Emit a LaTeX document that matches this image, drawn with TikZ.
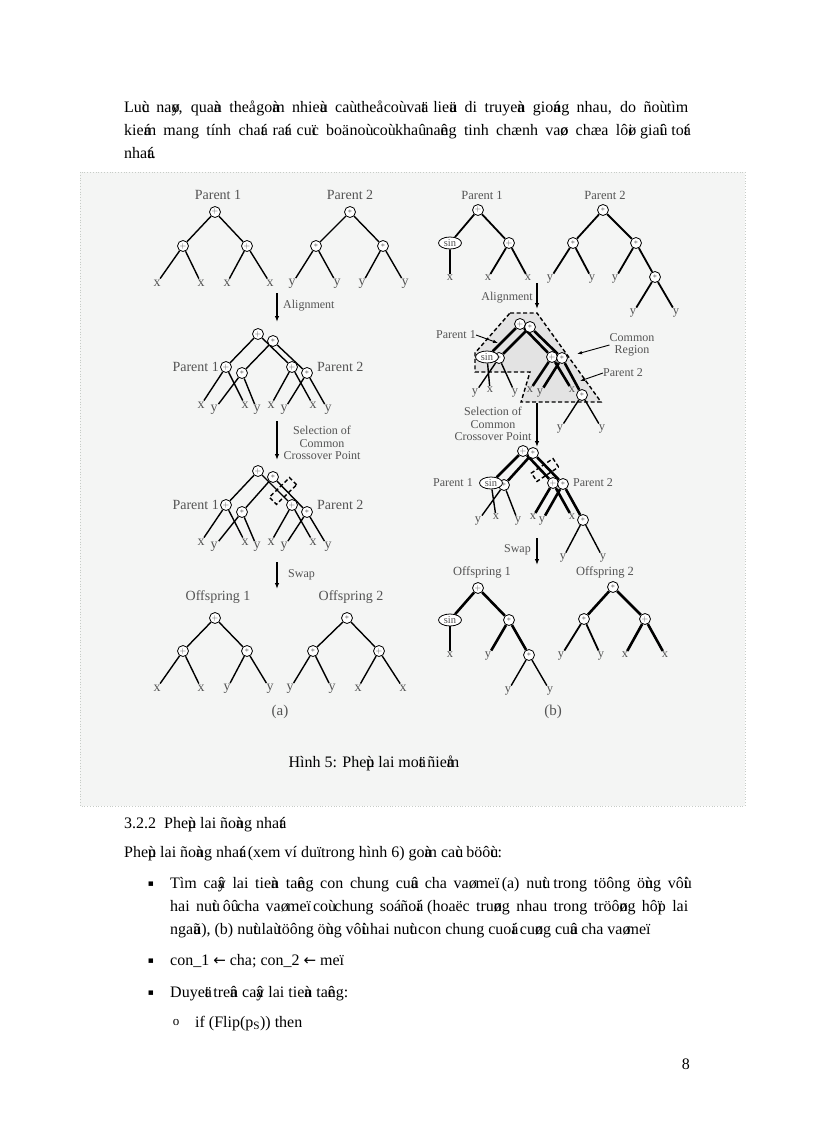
\documentclass[tikz,border=0pt]{standalone}
\usepackage{fontspec}
\setmainfont{Liberation Serif}
\newfontfamily\dejavu{DejaVu Sans}
\usepackage{graphicx}
\usetikzlibrary{arrows.meta,shapes.geometric}
\pgfdeclarelayer{bg}
\pgfdeclarelayer{edges}
\pgfsetlayers{bg,edges,main}
\definecolor{labgray}{rgb}{0.33,0.33,0.33}
\definecolor{figbg}{rgb}{0.955,0.962,0.955}
\definecolor{framegray}{rgb}{0.78,0.80,0.78}
\newlength\fitw
\newcommand\fitline[2]{\settowidth\fitw{#2}\ifdim\fitw>#1\relax\resizebox{#1}{\height}{#2}\else\hbox to #1{\spaceskip=0.25em plus 1fill\relax #2}\fi}
\newcommand\bodyfont{\fontsize{16}{23}\selectfont}
\newcommand\zw[1]{\rlap{\char#1\relax}}
\catcode`\ù=13
\def ù{\zw{"F9}}
\catcode`\ø=13
\def ø{\zw{"F8}}
\catcode`\û=13
\def û{\zw{"FB}}
\catcode`\õ=13
\def õ{\zw{"F5}}
\catcode`\ï=13
\def ï{\zw{"EF}}
\catcode`\á=13
\def á{\zw{"E1}}
\catcode`\à=13
\def à{\zw{"E0}}
\catcode`\å=13
\def å{\zw{"E5}}
\catcode`\ã=13
\def ã{\zw{"E3}}
\catcode`\ä=13
\def ä{\zw{"E4}}
\catcode`\â=13
\def â{\zw{"E2}}
\catcode`\ê=13
\def ê{\zw{"EA}}
\tikzset{
 body/.style={anchor=base west, inner sep=0, font=\bodyfont},
 lab/.style={inner sep=0, font=\fontsize{14}{14}\selectfont, text=labgray},
 labb/.style={inner sep=0, font=\fontsize{12.5}{12.5}\selectfont, text=labgray},
 small/.style={inner sep=0, font=\fontsize{12}{12.5}\selectfont, text=labgray, align=center},
 op/.style={circle, draw, fill=white, line width=0.8pt, minimum size=11pt, inner sep=0, font=\fontsize{8}{8}\selectfont, text=labgray},
 sinnode/.style={ellipse, draw, fill=white, line width=0.8pt, minimum width=23pt, minimum height=12pt, inner sep=0, font=\fontsize{10.5}{10.5}\selectfont, text=labgray},
 lf/.style={inner sep=1pt, font=\fontsize{14}{14}\selectfont, text=labgray},
 lfb/.style={inner sep=1pt, font=\fontsize{12.5}{12.5}\selectfont, text=labgray},
 ed/.style={line width=1.4pt},
 edm/.style={line width=1.8pt},
 edb/.style={line width=2.6pt},
 flow/.style={line width=1.3pt, -{Latex[length=6pt,width=4.5pt]}},
 callout/.style={line width=0.9pt, -{Latex[length=5pt,width=3.5pt]}},
 dsh/.style={line width=1.4pt, dash pattern=on 4pt off 2.5pt},
 bullet/.style={anchor=base, inner sep=0, font=\dejavu\fontsize{9}{9}\selectfont},
}
\begin{document}
\begin{tikzpicture}[x=1pt,y=-1pt]
\useasboundingbox (0,0) rectangle (816,1123);
\begin{pgfonlayer}{bg}
\fill[white] (0,0) rectangle (816,1123);
\fill[figbg] (80,172) rectangle (745,806);
\draw[framegray, dotted, line width=0.8pt] (80,172) rectangle (745,806);
\end{pgfonlayer}

% ---------- body text ----------
\node[body] (t1) at (124,113) {\fitline{564pt}{Luùc naøy, quaàn theå goàm nhieàu caù theå coù vaät lieäu di truyeàn gioáng nhau, do ñoù tìm}};
\node[body] (t2) at (124,136) {\fitline{564pt}{kieám mang tính chaát raát cuïc boä noù coù khaû naêng tinh chænh vaøo chæa lôøi giaûi toát}};
\node[body] (t3) at (124,159) {nhaát.};

% ---------- (a) top parents ----------
\node[lab] (ap1) at (218,195) {Parent 1};
\node[lab] (ap2) at (350,195) {Parent 2};
\node[op] (a1) at (215,212) {$+$};
\node[op] (a1l) at (183,246) {$+$};
\node[op] (a1r) at (247,246) {$+$};
\node[lf] (a1x1) at (157,283) {x};
\node[lf] (a1x2) at (201,283) {x};
\node[lf] (a1x3) at (227,283) {x};
\node[lf] (a1x4) at (270,283) {x};
\node[op] (a2) at (350,212) {$\ast$};
\node[op] (a2l) at (316,246) {$\ast$};
\node[op] (a2r) at (383,246) {$\ast$};
\node[lf] (a2y1) at (292,284) {y};
\node[lf] (a2y2) at (337,284) {y};
\node[lf] (a2y3) at (362,284) {y};
\node[lf] (a2y4) at (405,284) {y};

\coordinate (aar1s) at (277,293);
\coordinate (aar1e) at (277,322);
\node[small, anchor=west] (aal) at (283,306) {Alignment};

% ---------- (a) aligned ----------
\node[op] (m1) at (258,334) {$+$};
\node[op] (m2) at (273,341) {$\ast$};
\node[op] (m1l) at (226,367) {$+$};
\node[op] (m2l) at (242,373) {$\ast$};
\node[op] (m1r) at (292,367) {$+$};
\node[op] (m2r) at (307,373) {$\ast$};
\node[lab, anchor=east] (mp1) at (219,367) {Parent 1};
\node[lab, anchor=west] (mp2) at (317,367) {Parent 2};
\node[lf] (mx1) at (201,405) {x};
\node[lf] (my1) at (214,410) {y};
\node[lf] (mx2) at (245,405) {x};
\node[lf] (my2) at (257,410) {y};
\node[lf] (mx3) at (271,405) {x};
\node[lf] (my3) at (284,410) {y};
\node[lf] (mx4) at (313,405) {x};
\node[lf] (my4) at (328,410) {y};

\coordinate (aar2s) at (277,421);
\coordinate (aar2e) at (277,460);
\node[small] (asel) at (322,443) {Selection of\\Common\\Crossover Point};

% ---------- (a) selected ----------
\node[op] (s1) at (258,471) {$+$};
\node[op] (s2) at (273,477) {$\ast$};
\node[op] (s1l) at (226,505) {$+$};
\node[op] (s2l) at (242,512) {$\ast$};
\node[op] (s1r) at (292,505) {$+$};
\node[op] (s2r) at (307,512) {$\ast$};
\node[lab, anchor=east] (sp1) at (219,505) {Parent 1};
\node[lab, anchor=west] (sp2) at (317,505) {Parent 2};
\node[lf] (sx1) at (201,542) {x};
\node[lf] (sy1) at (214,547) {y};
\node[lf] (sx2) at (245,542) {x};
\node[lf] (sy2) at (257,547) {y};
\node[lf] (sx3) at (271,542) {x};
\node[lf] (sy3) at (284,547) {y};
\node[lf] (sx4) at (313,542) {x};
\node[lf] (sy4) at (328,547) {y};
\draw[dsh] (296.6,484.8) -- (289.6,477.6) -- (269.4,497.2) -- (276.4,504.4) -- cycle;

\coordinate (aar3s) at (277,562);
\coordinate (aar3e) at (277,589);
\node[small, anchor=west] (aswap) at (288,575) {Swap};

% ---------- (a) offspring ----------
\node[lab] (ao1) at (218,597) {Offspring 1};
\node[lab] (ao2) at (351,597) {Offspring 2};
\node[op] (o1) at (215,618) {$+$};
\node[op] (o1l) at (183,651) {$+$};
\node[op] (o1r) at (247,651) {$\ast$};
\node[lf] (o1a) at (157,688) {x};
\node[lf] (o1b) at (201,688) {x};
\node[lf] (o1c) at (227,689) {y};
\node[lf] (o1d) at (270,689) {y};
\node[op] (o2) at (347,618) {$\ast$};
\node[op] (o2l) at (313,651) {$\ast$};
\node[op] (o2r) at (379,651) {$+$};
\node[lf] (o2a) at (290,689) {y};
\node[lf] (o2b) at (332,689) {y};
\node[lf] (o2c) at (358,688) {x};
\node[lf] (o2d) at (403,688) {x};
\node[inner sep=0, font=\fontsize{15}{15}\selectfont, text=labgray] (capa) at (280,712) {(a)};

% ---------- (b) top parents ----------
\node[labb] (bp1) at (482,195) {Parent 1};
\node[labb] (bp2) at (605,195) {Parent 2};
\node[op] (b1) at (478,210) {$+$};
\node[sinnode] (b1s) at (450,243) {sin};
\node[op] (b1p) at (509,243) {$+$};
\node[lfb] (b1x1) at (450,278) {x};
\node[lfb] (b1x2) at (488,278) {x};
\node[lfb] (b1x3) at (528,278) {x};
\node[op] (b2) at (603,210) {$\ast$};
\node[op] (b2l) at (573,243) {$\ast$};
\node[op] (b2r) at (636,243) {$\ast$};
\node[lfb] (b2y1) at (550,279) {y};
\node[lfb] (b2y2) at (592,279) {y};
\node[lfb] (b2y3) at (615,279) {y};
\node[op] (b2d) at (655,277) {$\ast$};
\node[lfb] (b2y4) at (633,313) {y};
\node[lfb] (b2y5) at (676,313) {y};

\coordinate (bar1s) at (537,283);
\coordinate (bar1e) at (537,309);
\node[small, anchor=east] (bal) at (533,298) {Alignment};

% ---------- (b) aligned with common region ----------
\begin{pgfonlayer}{bg}
\fill[black!11] (510,313) -- (537,313) -- (601,402) -- (521,402) -- (530,372) -- (475,372) -- (475,353) -- cycle;
\end{pgfonlayer}
\draw[dsh] (510,313) -- (537,313) -- (601,402) -- (521,402) -- (530,372) -- (475,372) -- (475,353) -- cycle;
\node[op] (c1) at (520,324) {$+$};
\node[op] (c2) at (530,327) {$\ast$};
\node[op] (c2l) at (499,358) {$\ast$};
\node[sinnode] (c1l) at (487,357) {sin};
\node[op] (c1r) at (552,357) {$+$};
\node[op] (c2r) at (562,358) {$\ast$};
\node[lfb] (cy1) at (475,393) {y};
\node[lfb] (cx1) at (490,390) {x};
\node[lfb] (cy2) at (515,393) {y};
\node[lfb] (cx2) at (530,390) {x};
\node[lfb] (cy3) at (540,393) {y};
\node[lfb] (cx3) at (572,390) {x};
\node[op] (c2d) at (582,395) {$\ast$};
\node[lfb] (cy4) at (560,429) {y};
\node[lfb] (cy5) at (602,429) {y};
\node[small, anchor=east] (cp1) at (476,335) {Parent 1};
\coordinate (cp1t) at (498,343);
\node[small] (creg) at (632,345) {Common\\Region};
\coordinate (cregt) at (577,354);
\node[small, anchor=west] (cp2) at (603,373) {Parent 2};
\coordinate (cp2t) at (580,381);
\node[small] (bsel) at (493,424) {Selection of\\Common\\Crossover Point};
\coordinate (bar2s) at (537,403);
\coordinate (bar2e) at (537,447);

% ---------- (b) selected ----------
\node[op] (d1) at (523,451) {$+$};
\node[op] (d2) at (533,453) {$\ast$};
\node[op] (d2l) at (504,485) {$\ast$};
\node[sinnode] (d1l) at (491,483) {sin};
\node[op] (d1r) at (553,483) {$+$};
\node[op] (d2r) at (563,484) {$\ast$};
\node[small, anchor=east] (dp1) at (473,483) {Parent 1};
\node[small, anchor=west] (dp2) at (573,483) {Parent 2};
\node[lfb] (dy1) at (478,521) {y};
\node[lfb] (dx1) at (496,517) {x};
\node[lfb] (dy2) at (518,521) {y};
\node[lfb] (dx2) at (533,517) {x};
\node[lfb] (dy3) at (542,521) {y};
\node[lfb] (dx3) at (572,517) {x};
\node[op] (d2d) at (583,520) {$\ast$};
\node[lfb] (dy4) at (563,558) {y};
\node[lfb] (dy5) at (603,558) {y};
\draw[dsh] (558.6,467) -- (553,458.6) -- (531.4,473) -- (537,481.4) -- cycle;

\coordinate (bar3s) at (537,538);
\coordinate (bar3e) at (537,565);
\node[small, anchor=east] (bswap) at (531,550) {Swap};

% ---------- (b) offspring ----------
\node[labb] (bo1) at (482,572) {Offspring 1};
\node[labb] (bo2) at (605,572) {Offspring 2};
\node[op] (e1) at (478,588) {$+$};
\node[sinnode] (e1l) at (450,620) {sin};
\node[op] (e1r) at (509,620) {$\ast$};
\node[lfb] (e1x) at (450,655) {x};
\node[lfb] (e1y) at (488,656) {y};
\node[op] (e1d) at (529,655) {$\ast$};
\node[lfb] (e1y2) at (508,691) {y};
\node[lfb] (e1y3) at (550,691) {y};
\node[op] (f1) at (613,587) {$\ast$};
\node[op] (f1l) at (584,619) {$\ast$};
\node[op] (f1r) at (645,619) {$+$};
\node[lfb] (f1y1) at (561,656) {y};
\node[lfb] (f1y2) at (601,656) {y};
\node[lfb] (f1x1) at (625,655) {x};
\node[lfb] (f1x2) at (665,655) {x};
\node[inner sep=0, font=\fontsize{15}{15}\selectfont, text=labgray] (capb) at (553,712) {(b)};

% ---------- caption & lower text ----------
\node[body, anchor=base] (cap) at (374,767) {Hình 5: Pheùp lai moät ñieåm};
\node[body] (h322) at (124,828) {3.2.2\hspace{8pt}Pheùp lai ñoàng nhaát};
\node[body] (para) at (124,857) {Pheùp lai ñoàng nhaát (xem ví duï trong hình 6) goàm caùc böôùc:};
\node[bullet] (bu1) at (151,886) {▪};
\node[body] (b1l1) at (170,888) {\fitline{518pt}{Tìm caây lai tieàn taêng con chung cuûa cha vaø meï (a) nuùt trong töông öùng vôùi}};
\node[body] (b1l2) at (170,911) {\fitline{518pt}{hai nuùt ôû cha vaø meï coù chung soá ñoái (hoaëc truøng nhau trong tröôøng hôïp lai}};
\node[body] (b1l3) at (170,934) {ngaãu), (b) nuùt laù töông öùng vôùi hai nuùt con chung cuoái cuøng cuûa cha vaø meï};
\node[bullet] (bu2) at (151,963) {▪};
\node[body] (b2l1) at (170,965) {con\_1 {\dejavu\fontsize{15}{15}\selectfont ←} cha; con\_2 {\dejavu\fontsize{15}{15}\selectfont ←} meï};
\node[bullet] (bu3) at (151,995) {▪};
\node[body] (b3l1) at (170,997) {Duyeät treân caây lai tieàn taêng:};
\node[anchor=base, inner sep=0, font=\fontsize{13}{13}\selectfont] (sb1) at (176,1025) {o};
\node[body] (sbl1) at (195,1027) {if (Flip(p\textsubscript{S})) then};
\node[body, anchor=base east] (pg) at (690,1069) {8};

% ---------- edges ----------
\begin{pgfonlayer}{edges}
\draw[ed] (a1)--(a1l) (a1)--(a1r) (a1l)--(a1x1) (a1l)--(a1x2) (a1r)--(a1x3) (a1r)--(a1x4);
\draw[ed] (a2)--(a2l) (a2)--(a2r) (a2l)--(a2y1) (a2l)--(a2y2) (a2r)--(a2y3) (a2r)--(a2y4);
\draw[ed] (m1)--(m1l) (m1)--(m1r) (m1l)--(mx1) (m1l)--(mx2) (m1r)--(mx3) (m1r)--(mx4);
\draw[ed] (m2)--(m2l) (m2)--(m2r) (m2l)--(my1) (m2l)--(my2) (m2r)--(my3) (m2r)--(my4);
\draw[ed] (s1)--(s1l) (s1)--(s1r) (s1l)--(sx1) (s1l)--(sx2) (s1r)--(sx3) (s1r)--(sx4);
\draw[ed] (s2)--(s2l) (s2)--(s2r) (s2l)--(sy1) (s2l)--(sy2) (s2r)--(sy3) (s2r)--(sy4);
\draw[ed] (o1)--(o1l) (o1)--(o1r) (o1l)--(o1a) (o1l)--(o1b) (o1r)--(o1c) (o1r)--(o1d);
\draw[ed] (o2)--(o2l) (o2)--(o2r) (o2l)--(o2a) (o2l)--(o2b) (o2r)--(o2c) (o2r)--(o2d);
\draw[flow] (aar1s)--(aar1e);
\draw[flow] (aar2s)--(aar2e);
\draw[flow] (aar3s)--(aar3e);

\draw[edm] (b1)--(b1s) (b1)--(b1p) (b1s)--(b1x1) (b1p)--(b1x2) (b1p)--(b1x3);
\draw[edm] (b2)--(b2l) (b2)--(b2r) (b2l)--(b2y1) (b2l)--(b2y2) (b2r)--(b2y3) (b2r)--(b2d) (b2d)--(b2y4) (b2d)--(b2y5);
\draw[flow] (bar1s)--(bar1e);

\draw[edb] (c1)--(c1l) (c1)--(c1r) (c2)--(c2l) (c2)--(c2r) (c1r)--(cx2) (c1r)--(cx3) (c2r)--(cy3) (c2r)--(c2d);
\draw[ed] (c1l)--(cx1) (c2l)--(cy1) (c2l)--(cy2) (c2d)--(cy4) (c2d)--(cy5);
\draw[callout] (cp1.east)--(cp1t);
\draw[callout] (creg.west)--(cregt);
\draw[callout] (cp2.west)--(cp2t);
\draw[flow] (bar2s)--(bar2e);

\draw[edb] (d1)--(d1l) (d1)--(d1r) (d2)--(d2l) (d2)--(d2r) (d1r)--(dx2) (d1r)--(dx3) (d2r)--(dy3) (d2r)--(d2d);
\draw[ed] (d1l)--(dx1) (d2l)--(dy1) (d2l)--(dy2) (d2d)--(dy4) (d2d)--(dy5);
\draw[flow] (bar3s)--(bar3e);

\draw[edb] (e1)--(e1l) (e1)--(e1r) (e1r)--(e1y) (e1r)--(e1d);
\draw[edm] (e1l)--(e1x);
\draw[ed] (e1d)--(e1y2) (e1d)--(e1y3);
\draw[edb] (f1)--(f1l) (f1)--(f1r) (f1r)--(f1x1) (f1r)--(f1x2);
\draw[edm] (f1l)--(f1y1) (f1l)--(f1y2);
\end{pgfonlayer}
\end{tikzpicture}
\end{document}
